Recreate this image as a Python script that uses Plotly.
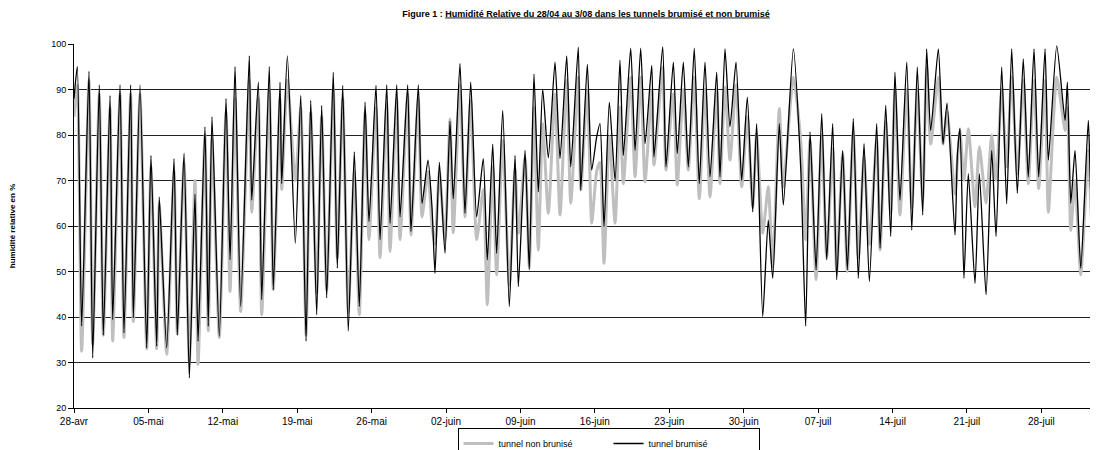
import pandas as pd
import plotly.graph_objects as go

# time of each reading, in days after 28-avr 00:00
day_offsets = [
    0.00, 0.31, 0.72, 1.41, 1.76, 2.38, 2.76, 3.39, 3.64, 4.33, 4.70, 5.33, 5.58, 6.21, 6.84,
    7.24, 7.78, 8.02, 8.72, 9.41, 9.72, 10.35, 10.85, 11.38, 11.67, 12.32, 12.63, 12.98, 13.67,
    14.30, 14.68, 15.15, 15.68, 16.49, 16.72, 17.34, 17.66, 18.37, 18.75, 19.38, 19.54, 20.07,
    20.82, 21.33, 21.83, 22.27, 22.83, 23.30, 23.77, 24.39, 24.77, 25.28, 25.80, 26.37, 26.84,
    27.38, 27.75, 28.41, 28.79, 29.42, 29.73, 30.36, 30.67, 31.39, 31.70, 32.39, 32.74, 33.30,
    33.68, 33.96, 34.37, 34.90, 35.37, 35.68, 36.31, 36.78, 37.32, 37.88, 38.50, 38.88, 39.39,
    39.76, 40.33, 40.95, 41.49, 41.80, 42.43, 42.83, 43.27, 43.68, 44.09, 44.62, 45.25, 45.72,
    46.35, 46.73, 47.44, 47.67, 48.29, 48.70, 49.17, 49.48, 49.86, 50.36, 50.90, 51.36, 51.68,
    52.37, 52.78, 53.31, 53.72, 54.35, 54.56, 55.38, 55.69, 56.38, 56.75, 57.32, 57.79, 58.35,
    58.82, 59.36, 59.83, 60.46, 60.77, 61.24, 61.71, 62.28, 62.81, 63.34, 63.85, 64.22, 64.79,
    65.31, 65.73, 66.35, 66.73, 67.67, 68.36, 68.83, 69.24, 69.81, 70.34, 70.81, 71.37, 71.75,
    72.31, 72.75, 73.31, 73.78, 74.32, 74.82, 75.51, 75.83, 76.36, 76.83, 77.23, 77.70, 78.34,
    78.81, 79.33, 79.84, 80.21, 80.59, 81.31, 81.75, 82.13, 82.88, 83.10, 83.35, 83.72, 84.13,
    84.76, 85.17, 85.80, 86.33, 86.74, 87.27, 87.74, 88.21, 88.74, 89.30, 89.77, 90.31, 90.75,
    91.35, 91.66, 92.45, 93.23, 93.45, 93.77, 94.17, 94.71, 95.42, 95.74, 96.33,
]

rh_brumise = [
    88, 95, 38, 94, 31, 91, 36, 88.7, 39.4, 91, 36.5, 91, 39.8, 91, 33.2,
    75.5, 33.6, 66.4, 33.2, 74.8, 36, 76, 26.6, 67, 34.7, 81.8, 38, 84, 35.8,
    88, 52.6, 95, 42.3, 97.4, 65.7, 91.6, 43.8, 95, 46, 91.6, 69.3, 97.4,
    56.2, 88.7, 34.7, 87.6, 40.5, 86.5, 44.2, 93.8, 50.7, 90.9, 36.9, 76.3, 42.3,
    87.2, 61, 90.9, 57, 91, 60.6, 91, 62, 91, 58.8, 91, 65, 74.5,
    64, 49.6, 74, 54, 83, 66, 95.7, 62.8, 91.6, 62, 74.8, 52.5, 78,
    54, 85.4, 42.3, 75.5, 46.7, 76.6, 50.4, 93.4, 67.5, 90.1, 75, 96, 74.8,
    97.4, 73, 99.3, 67.9, 95.5, 72.3, 79.6, 82.5, 59.9, 87.2, 70, 96.4, 75.5,
    99.1, 76.6, 99.1, 78.1, 95.3, 75.2, 99.4, 73, 96, 75.9, 96, 73, 99.1,
    69.3, 96, 70.8, 93.8, 70.8, 98.9, 81.8, 96, 70, 88.3, 63.1, 82.5, 40.1,
    61.3, 48.5, 82.5, 64.6, 98.9, 73, 38, 80.7, 50.4, 84.7, 52.6, 82.5, 48.2,
    76.6, 50.4, 83.6, 48.5, 78.1, 47.8, 82.5, 55.1, 86.5, 57.7, 93.8, 65.7, 96,
    59.1, 94.9, 62.4, 98.9, 81, 98.9, 78, 87, 58, 75.5, 81.5, 48.5, 71.5,
    47.4, 71.5, 44.9, 76.6, 57.7, 94.9, 64.9, 98.9, 67.2, 96.7, 70.8, 98.9, 70.8,
    98.9, 74.5, 99.6, 83.2, 91.6, 65, 76.6, 50.7, 83.2, 63.5, 71.5,
]

rh_non_brumise = [
    84, 91, 32.5, 92, 34, 89, 36, 86, 34.7, 89, 35.5, 89, 39, 89, 33,
    73, 33, 65, 31.8, 72, 36.4, 74, 30, 70, 29.6, 80, 37, 79, 35.5,
    85, 45.6, 88, 41.2, 92, 63, 88, 40.5, 90, 46, 88, 68, 92,
    70, 86, 36, 85, 45.3, 84, 46, 90, 53, 88, 41, 72, 40.5,
    85, 57, 86, 53, 87, 54.4, 88, 57, 89, 58, 88, 62, 72,
    60, 56, 72, 57, 83.5, 58.5, 91, 62, 87.6, 57, 68, 42.7, 73,
    49.3, 78.8, 47, 72.6, 58.4, 75, 51, 86, 54.7, 82.5, 62.8, 89, 62.4,
    92, 65, 92.7, 67.9, 89.8, 60.6, 72, 74, 51.8, 79.6, 60.6, 86.1, 69.3,
    92.7, 70.8, 92.7, 69.7, 89.8, 73.4, 94.9, 72.3, 89, 69, 90, 72.3, 92.7,
    66, 90, 66.4, 90, 69.3, 90.5, 74.5, 91, 68.6, 84, 64.2, 80.3, 58.4,
    68.6, 51, 85.8, 68.6, 92.7, 78.8, 57, 79, 48.2, 80, 53, 77, 50,
    76, 50, 81, 53, 75, 56, 79, 54.7, 83, 62.8, 90, 62.4, 90,
    64, 90, 65.7, 94.9, 78, 92.7, 78, 85, 67, 74, 81, 70, 81.4,
    64.2, 77.4, 65, 80, 70, 90, 73, 92.7, 71.5, 92, 69.3, 92, 68.2,
    92, 63, 92.7, 81, 86, 59, 70, 49.3, 76.6, 61.3, 81,
]

tick_labels = ["28-avr", "05-mai", "12-mai", "19-mai", "26-mai", "02-juin", "09-juin",
               "16-juin", "23-juin", "30-juin", "07-juil", "14-juil", "21-juil", "28-juil"]
y_ticks = [20, 30, 40, 50, 60, 70, 80, 90, 100]

start = pd.Timestamp("2008-04-28")
times = start + pd.to_timedelta(day_offsets, unit="D")
tick_vals = [start + pd.Timedelta(days=7 * i) for i in range(len(tick_labels))]

fig = go.Figure()
fig.add_trace(go.Scatter(
    x=times, y=rh_non_brumise, mode="lines", name="tunnel non brunisé",
    line=dict(color="#BFBFBF", width=3, shape="spline", smoothing=0.6),
))
fig.add_trace(go.Scatter(
    x=times, y=rh_brumise, mode="lines", name="tunnel brumisé",
    line=dict(color="#000000", width=1.3, shape="spline", smoothing=0.6),
))

font = "Arial, Liberation Sans, sans-serif"
# the page body adds an 8px offset, so the figure is 8px smaller than the window
fig.update_layout(
    width=1090, height=442,
    margin=dict(l=66, r=0, t=36, b=42, autoexpand=False),
    paper_bgcolor="white", plot_bgcolor="white",
    font=dict(family=font, size=10, color="#000"),
    title=dict(
        text="<b>Figure 1 : <u>Humidité Relative du 28/04 au 3/08 dans les tunnels brumisé et non brumisé</u></b>",
        x=0.5, xref="paper", xanchor="center", y=0.995, yanchor="top",
        font=dict(size=9, family=font),
    ),
    showlegend=True,
    legend=dict(
        orientation="h", x=0.522, xanchor="center", y=-0.055, yanchor="top",
        bordercolor="#000", borderwidth=1, bgcolor="white",
        font=dict(size=9, family=font), itemwidth=30, tracegroupgap=0,
        entrywidth=105, entrywidthmode="pixels",
    ),
    xaxis=dict(
        range=[start, start + pd.Timedelta(days=96.33)],
        tickvals=tick_vals, ticktext=tick_labels,
        showgrid=False, showline=True, linecolor="#000", linewidth=1,
        ticks="outside", ticklen=4, tickcolor="#000",
        tickfont=dict(size=10, family=font), zeroline=False,
    ),
    yaxis=dict(
        range=[20, 100], tickvals=y_ticks,
        showgrid=True, gridcolor="#222", gridwidth=1,
        showline=True, linecolor="#000", linewidth=1,
        ticks="outside", ticklen=5, tickcolor="#000",
        tickfont=dict(size=9, family=font), zeroline=False,
        title=dict(text="<b>humidité relative en %</b>", font=dict(size=8, family=font), standoff=40),
    ),
)

fig.write_html("out.html")
